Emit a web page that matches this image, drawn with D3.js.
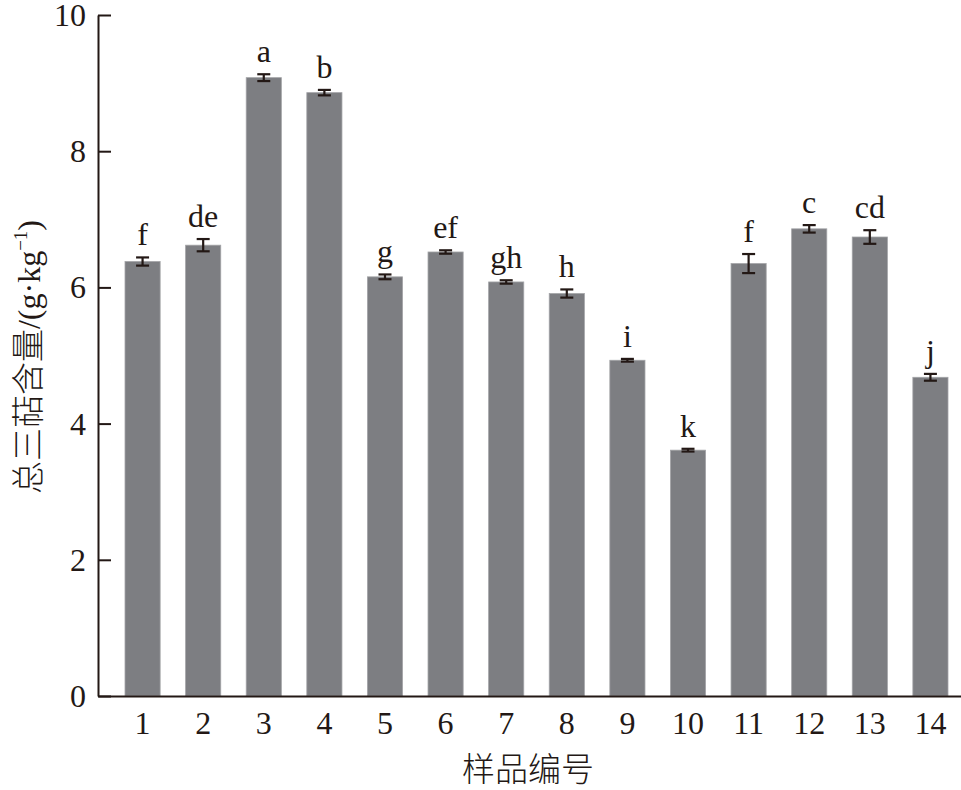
<!DOCTYPE html>
<html>
<head>
<meta charset="utf-8">
<script src="https://cdn.jsdelivr.net/npm/d3@7"></script>
<style>
  html, body { margin: 0; padding: 0; background: #fff; }
  svg { display: block; }
  .serif { font-family: 'Liberation Serif', 'DejaVu Serif', serif; }
  .cjk { font-family: 'Noto Sans CJK SC', sans-serif; font-weight: 300; }
</style>
</head>
<body>
<svg id="chart"></svg>
<script>
// ── Data ───────────────────────────────────────────────────────────────────
const samples = ['1', '2', '3', '4', '5', '6', '7', '8', '9', '10', '11', '12', '13', '14'];
const contents = [6.38, 6.62, 9.08, 8.86, 6.155, 6.52, 6.08, 5.91, 4.93, 3.61, 6.35, 6.86, 6.74, 4.68];
const errors = [0.06, 0.09, 0.05, 0.04, 0.035, 0.025, 0.025, 0.06, 0.02, 0.02, 0.14, 0.055, 0.10, 0.05];
const letters = ['f', 'de', 'a', 'b', 'g', 'ef', 'gh', 'h', 'i', 'k', 'f', 'c', 'cd', 'j'];
const yTicks = [0, 2, 4, 6, 8, 10];

const W = 961, H = 790;
const margin = { top: 15, right: 0, bottom: 94, left: 98 };
const ink = '#231815';

const svg = d3.select('#chart').attr('width', W).attr('height', H);

// ── Scales ─────────────────────────────────────────────────────────────────
const x = d3.scaleBand()
  .domain(samples)
  .range([margin.left, W - margin.right])
  .paddingInner(0.42)
  .paddingOuter(0.33)
  .align(0.675);

const y = d3.scaleLinear()
  .domain([0, 10])
  .range([H - margin.bottom, margin.top]);

// ── Bars ───────────────────────────────────────────────────────────────────
svg.append('g')
  .selectAll('rect')
  .data(samples)
  .join('rect')
  .attr('x', d => x(d))
  .attr('y', (d, i) => y(contents[i]))
  .attr('width', x.bandwidth())
  .attr('height', (d, i) => y(0) - y(contents[i]))
  .attr('fill', '#7d7e82')
  .attr('stroke', '#a3a4a7')
  .attr('stroke-width', 0.8);

// ── Error bars ─────────────────────────────────────────────────────────────
const capW = 13;
const eb = svg.append('g')
  .attr('stroke', ink)
  .attr('stroke-width', 2.2)
  .selectAll('g')
  .data(samples)
  .join('g')
  .attr('transform', d => `translate(${x(d) + x.bandwidth() / 2},0)`);

eb.append('line')
  .attr('y1', (d, i) => y(contents[i] + errors[i]))
  .attr('y2', (d, i) => y(contents[i] - errors[i]));
eb.append('line')
  .attr('x1', -capW / 2).attr('x2', capW / 2)
  .attr('y1', (d, i) => y(contents[i] + errors[i]))
  .attr('y2', (d, i) => y(contents[i] + errors[i]));
eb.append('line')
  .attr('x1', -capW / 2).attr('x2', capW / 2)
  .attr('y1', (d, i) => y(contents[i] - errors[i]))
  .attr('y2', (d, i) => y(contents[i] - errors[i]));

// ── Significance letters ───────────────────────────────────────────────────
svg.append('g')
  .selectAll('text')
  .data(samples)
  .join('text')
  .attr('class', 'serif')
  .attr('x', d => x(d) + x.bandwidth() / 2)
  .attr('y', (d, i) => y(contents[i] + errors[i]) - 12)
  .attr('text-anchor', 'middle')
  .attr('fill', ink)
  .style('font-size', '32px')
  .text((d, i) => letters[i]);

// ── Axes ───────────────────────────────────────────────────────────────────
const yAxis = svg.append('g')
  .attr('transform', `translate(${margin.left},0)`)
  .call(d3.axisLeft(y).tickValues(yTicks).tickSizeInner(-13).tickSizeOuter(0).tickPadding(12));

const xAxis = svg.append('g')
  .attr('transform', `translate(0,${y(0)})`)
  .call(d3.axisBottom(x).tickSize(0).tickPadding(15));

for (const ax of [yAxis, xAxis]) {
  ax.attr('font-family', null).attr('font-size', null);
  ax.select('.domain').attr('stroke', ink).attr('stroke-width', 2);
  ax.selectAll('.tick line').attr('stroke', ink).attr('stroke-width', 2);
  ax.selectAll('.tick text')
    .attr('class', 'serif')
    .attr('fill', ink)
    .style('font-size', '32px');
}
yAxis.selectAll('.tick text').attr('dy', '0.33em');

// ── Axis titles ────────────────────────────────────────────────────────────
svg.append('text')
  .attr('class', 'cjk')
  .attr('x', 528)
  .attr('y', 781)
  .attr('text-anchor', 'middle')
  .attr('fill', ink)
  .style('font-size', '33px')
  .text('样品编号');

const yTitle = svg.append('text')
  .attr('transform', `translate(40,${(212 + 502) / 2}) rotate(-90)`)
  .attr('text-anchor', 'middle')
  .attr('fill', ink);

yTitle.append('tspan').attr('class', 'cjk').style('font-size', '33px').text('总三萜含量');
yTitle.append('tspan').attr('class', 'serif').style('font-size', '32px').text('/(g·kg');
yTitle.append('tspan').attr('class', 'serif').style('font-size', '19px').attr('dy', '-0.7em').text('−1');
yTitle.append('tspan').attr('class', 'serif').style('font-size', '32px').attr('dy', '0.42em').text(')');
</script>
</body>
</html>
